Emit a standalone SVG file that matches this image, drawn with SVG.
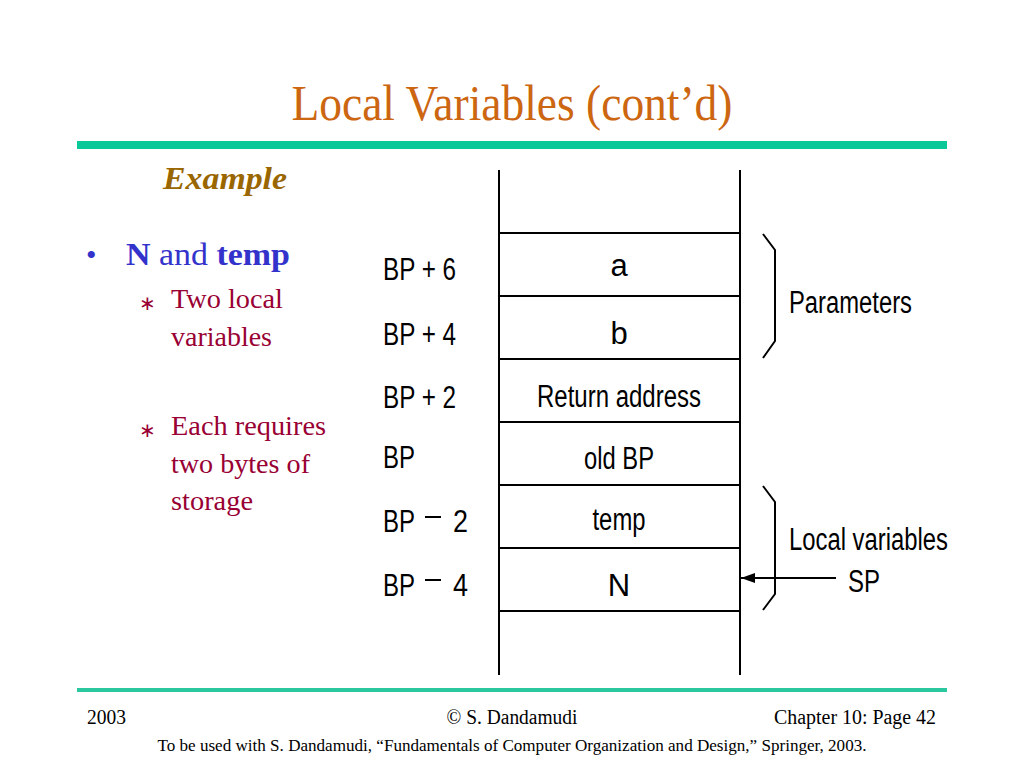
<svg xmlns="http://www.w3.org/2000/svg" width="1024" height="768" viewBox="0 0 1024 768">
<defs>
<marker id="ah" viewBox="0 0 14 10" refX="14" refY="5" markerWidth="14" markerHeight="11" markerUnits="userSpaceOnUse" orient="auto"><path d="M0,0 L14,5 L0,10 z" fill="#000"/></marker>
<style>
.serif{font-family:"Liberation Serif","Times New Roman",serif}
.sans{font-family:"Liberation Sans",Arial,sans-serif;font-size:31px;fill:#000}
.ln{stroke:#000;stroke-width:2;fill:none}
.red{fill:#990033;font-size:28px}
.ast{fill:#990033;font-size:20px}
.foot{font-size:20px;fill:#000}
</style>
</defs>
<rect width="1024" height="768" fill="#fff"/>
<g id="header">
<text class="serif" x="512" y="120" text-anchor="middle" font-size="50" fill="#CC6611" textLength="441" lengthAdjust="spacingAndGlyphs">Local Variables (cont’d)</text>
<rect x="77" y="141" width="870" height="8" fill="#0BC899"/>
<text class="serif" x="163" y="189" font-size="32" font-weight="bold" font-style="italic" fill="#996600" textLength="124" lengthAdjust="spacingAndGlyphs">Example</text>
</g>
<g id="bullets" class="serif">
<text x="86" y="265" font-size="30" fill="#3333CC">•</text>
<text x="126" y="265" font-size="32" fill="#3333CC" textLength="164" lengthAdjust="spacingAndGlyphs"><tspan font-weight="bold">N</tspan> and <tspan font-weight="bold">temp</tspan></text>
<text x="139" y="310" class="ast">∗</text>
<text x="171" y="308" class="red" textLength="112" lengthAdjust="spacingAndGlyphs">Two local</text>
<text x="171" y="346" class="red" textLength="101" lengthAdjust="spacingAndGlyphs">variables</text>
<text x="139" y="437" class="ast">∗</text>
<text x="171" y="435" class="red" textLength="155" lengthAdjust="spacingAndGlyphs">Each requires</text>
<text x="171" y="473" class="red" textLength="139" lengthAdjust="spacingAndGlyphs">two bytes of</text>
<text x="171" y="510" class="red" textLength="82" lengthAdjust="spacingAndGlyphs">storage</text>
</g>
<g id="stack">
<line class="ln" x1="499" y1="170" x2="499" y2="675"/>
<line class="ln" x1="740" y1="170" x2="740" y2="675"/>
<line class="ln" x1="499" y1="233" x2="740" y2="233"/>
<line class="ln" x1="499" y1="296" x2="740" y2="296"/>
<line class="ln" x1="499" y1="359" x2="740" y2="359"/>
<line class="ln" x1="499" y1="422" x2="740" y2="422"/>
<line class="ln" x1="499" y1="485" x2="740" y2="485"/>
<line class="ln" x1="499" y1="548" x2="740" y2="548"/>
<line class="ln" x1="499" y1="611" x2="740" y2="611"/>
</g>
<g id="cells" class="sans" text-anchor="middle">
<text x="619" y="276">a</text>
<text x="619" y="344">b</text>
<text x="619" y="407" textLength="164" lengthAdjust="spacingAndGlyphs">Return address</text>
<text x="619" y="469" textLength="70" lengthAdjust="spacingAndGlyphs">old BP</text>
<text x="619" y="530" textLength="53" lengthAdjust="spacingAndGlyphs">temp</text>
<text x="619" y="596">N</text>
</g>
<g id="offsets" class="sans">
<text x="383" y="280" textLength="73" lengthAdjust="spacingAndGlyphs">BP + 6</text>
<text x="383" y="345" textLength="73" lengthAdjust="spacingAndGlyphs">BP + 4</text>
<text x="383" y="408" textLength="73" lengthAdjust="spacingAndGlyphs">BP + 2</text>
<text x="383" y="468" textLength="32" lengthAdjust="spacingAndGlyphs">BP</text>
<text x="383" y="532" textLength="32" lengthAdjust="spacingAndGlyphs">BP</text>
<line x1="425" y1="517" x2="441" y2="517" stroke="#000" stroke-width="2"/>
<text x="453" y="532" textLength="15" lengthAdjust="spacingAndGlyphs">2</text>
<text x="383" y="596" textLength="32" lengthAdjust="spacingAndGlyphs">BP</text>
<line x1="425" y1="580" x2="441" y2="580" stroke="#000" stroke-width="2"/>
<text x="453" y="596" textLength="15" lengthAdjust="spacingAndGlyphs">4</text>
</g>
<g id="parameters">
<path class="ln" d="M763,234 L775,250 L775,341 L763,358"/>
<text class="sans" x="789" y="313" textLength="123" lengthAdjust="spacingAndGlyphs">Parameters</text>
</g>
<g id="locals">
<path class="ln" d="M763,486 L775,502 L775,594 L763,610"/>
<text class="sans" x="789" y="550" textLength="159" lengthAdjust="spacingAndGlyphs">Local variables</text>
<text class="sans" x="848" y="592" textLength="32" lengthAdjust="spacingAndGlyphs">SP</text>
</g>
<g id="connectors">
<line class="ln" x1="836" y1="578" x2="741" y2="578" marker-end="url(#ah)"/>
</g>
<g id="footer" class="serif">
<rect x="77" y="688" width="870" height="4" fill="#2BC8A0"/>
<text x="87" y="724" class="foot" textLength="39" lengthAdjust="spacingAndGlyphs">2003</text>
<text x="512" y="724" class="foot" text-anchor="middle" textLength="131" lengthAdjust="spacingAndGlyphs">© S. Dandamudi</text>
<text x="936" y="724" class="foot" text-anchor="end" textLength="162" lengthAdjust="spacingAndGlyphs">Chapter 10: Page 42</text>
<text x="512" y="751" font-size="16" fill="#000" text-anchor="middle" textLength="709" lengthAdjust="spacingAndGlyphs">To be used with S. Dandamudi, “Fundamentals of Computer Organization and Design,” Springer, 2003.</text>
</g>
</svg>
